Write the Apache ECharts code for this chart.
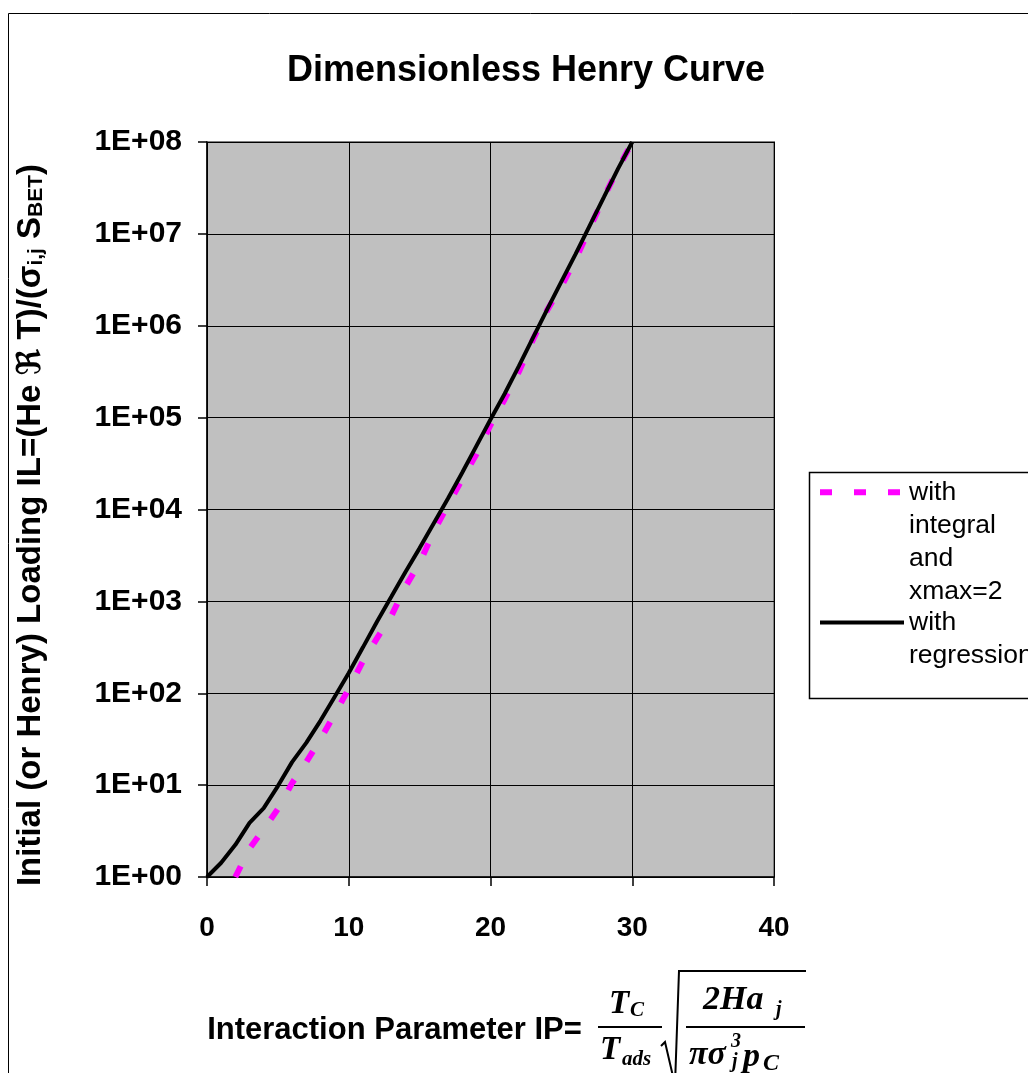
<!DOCTYPE html>
<html>
<head>
<meta charset="utf-8">
<title>Dimensionless Henry Curve</title>
<script src="https://cdn.jsdelivr.net/npm/echarts@6/dist/echarts.min.js"></script>
<style>
  html, body { margin: 0; padding: 0; overflow: hidden; background: #fff; }
  #chart { position: absolute; left: 0; top: 0; width: 1052px; height: 1073px; }
</style>
</head>
<body>
<div id="chart"></div>
<script>
// Interaction parameter IP (x) and dimensionless initial loading IL (y)
const ipRegression = [0, 1, 2, 3, 4, 5, 6, 7, 8, 9, 10, 11, 12, 13, 14, 15, 16, 17, 18, 19, 20,
  21, 22, 23, 24, 25, 26, 27, 28, 29, 30];
const ilRegression = [1, 1.43, 2.24, 3.89, 5.62, 9.77, 17.8, 28.8, 50.1, 91.2, 166, 316, 603,
  1120, 2090, 3800, 7080, 13200, 25100, 49000, 95500, 182000, 363000, 741000, 1510000,
  3020000, 6030000, 12300000, 25100000, 51300000, 100000000];

const ipIntegral = [2, 3, 4, 5, 6, 7, 8, 9, 10, 11, 12, 13, 14, 15, 16, 17, 18, 19, 20,
  21, 22, 23, 24, 25, 26, 27, 28, 29, 30];
const ilIntegral = [1, 2.04, 3.31, 5.5, 10.5, 17.8, 31.6, 58.9, 112, 224, 398, 692, 1445,
  2630, 5754, 11220, 21380, 39810, 83180, 158500, 316200, 707900, 1479000, 2692000,
  5248000, 11480000, 25120000, 51290000, 100000000];

const seriesNames = ['with integral and xmax=2', 'with regression'];
const yTickLabels = ['1E+00', '1E+01', '1E+02', '1E+03', '1E+04', '1E+05', '1E+06', '1E+07', '1E+08'];
const xTicks = [0, 10, 20, 30, 40];

const SANS = '"Liberation Sans", Arial, "DejaVu Sans", sans-serif';
const SERIF = '"Liberation Serif", "Times New Roman", "DejaVu Serif", serif';

const pairs = (xs, ys) => xs.map((x, i) => [x, ys[i]]);

// Formula pieces of the x-axis title: T_C / T_ads * sqrt(2Ha_j / (pi sigma_j^3 p_C))
const mathText = (text, x, y, size) => ({
  type: 'text', silent: true, x: x, y: y,
  style: { text: text, fill: '#000', font: 'italic bold ' + size + 'px ' + SERIF,
    align: 'left', verticalAlign: 'middle' }
});
const strokeLine = (pts, w) => ({
  type: 'polyline', silent: true, shape: { points: pts },
  style: { stroke: '#000', lineWidth: w, fill: null }
});

// Legend entries wrap one word per line, the key line sits beside the first line
const LEGEND_LINE = 33.3;
const legendLabel = name => name.split(' ').map(w => '{t|' + w + '}').join('\n');
const legendEntry = name => ({
  name: name,
  textStyle: { padding: [(name.split(' ').length - 1) * LEGEND_LINE, 0, 0, 0] }
});

const chart = echarts.init(document.getElementById('chart'), null, { renderer: 'canvas' });

chart.setOption({
  animation: false,
  backgroundColor: '#fff',
  title: {
    text: 'Dimensionless Henry Curve',
    left: 'center', top: 53, padding: 0,
    textStyle: { fontFamily: SANS, fontSize: 36, fontWeight: 'bold', color: '#000' }
  },
  grid: {
    left: 207, top: 142, width: 567, height: 735,
    show: true, backgroundColor: '#C0C0C0', borderColor: '#808080', borderWidth: 2
  },
  xAxis: {
    type: 'value', min: xTicks[0], max: xTicks[xTicks.length - 1], interval: 10,
    name: 'Interaction Parameter IP=',
    nameLocation: 'middle', nameGap: 138,
    nameTextStyle: { fontFamily: SANS, fontSize: 31, fontWeight: 'bold', color: '#000',
      padding: [0, 192, 0, 0] },
    axisLine: { show: true, onZero: false, lineStyle: { color: '#000', width: 1.5 } },
    axisTick: { show: true, length: 9, lineStyle: { color: '#000', width: 1.5 } },
    axisLabel: { margin: 37, fontFamily: SANS, fontSize: 28, fontWeight: 'bold', color: '#000' },
    splitLine: { show: true, lineStyle: { color: '#000', width: 1 } }
  },
  yAxis: {
    type: 'log', logBase: 10, min: 1, max: 1e8,
    name: '{m|Initial (or Henry) Loading IL=(He ℜ T)/(σ}{s|i,j}{m| S}{s|BET}{m|)}',
    nameLocation: 'middle', nameRotate: 90, nameGap: 160,
    nameTextStyle: {
      padding: [0, 31, 0, 0],
      rich: {
        m: { fontFamily: SANS, fontSize: 33, fontWeight: 'bold', color: '#000' },
        s: { fontFamily: SANS, fontSize: 21, fontWeight: 'bold', color: '#000', verticalAlign: 'bottom' }
      }
    },
    axisLine: { show: true, onZero: false, lineStyle: { color: '#000', width: 1.5 } },
    axisTick: { show: true, length: 9, lineStyle: { color: '#000', width: 1.5 } },
    minorTick: { show: false },
    axisLabel: {
      margin: 25, fontFamily: SANS, fontSize: 30, fontWeight: 'bold', color: '#000',
      formatter: v => yTickLabels[Math.round(Math.log10(v))]
    },
    splitLine: { show: true, lineStyle: { color: '#000', width: 1 } }
  },
  legend: {
    orient: 'vertical',
    left: 817, top: 478.7, padding: 0,
    itemWidth: 84, itemHeight: 6, itemGap: 3.4,
    formatter: legendLabel,
    itemStyle: { color: 'rgba(0,0,0,0)', borderColor: 'rgba(0,0,0,0)', borderWidth: 0 },
    lineStyle: { width: 'inherit' },
    textStyle: {
      fontFamily: SANS, fontSize: 26.5, color: '#000',
      rich: { t: { fontFamily: SANS, fontSize: 26.5, lineHeight: LEGEND_LINE, color: '#000' } }
    },
    data: seriesNames.map(legendEntry)
  },
  series: [
    {
      name: seriesNames[0], type: 'line', data: pairs(ipIntegral, ilIntegral),
      symbol: 'none', smooth: false, clip: true,
      lineStyle: { color: '#FF00FF', width: 6, type: [12, 22], cap: 'butt' },
      itemStyle: { color: '#FF00FF' }
    },
    {
      name: seriesNames[1], type: 'line', data: pairs(ipRegression, ilRegression),
      symbol: 'none', smooth: false, clip: true,
      lineStyle: { color: '#000', width: 4 },
      itemStyle: { color: '#000' }
    }
  ],
  graphic: [
    // chart frame (continues past the right and bottom edges of the page)
    { type: 'rect', silent: true, z: -10,
      shape: { x: 8.5, y: 13.5, width: 1100, height: 1100 },
      style: { fill: null, stroke: '#000', lineWidth: 1 } },
    // legend frame
    { type: 'rect', silent: true,
      shape: { x: 809.5, y: 472.5, width: 260, height: 226 },
      style: { fill: null, stroke: '#000', lineWidth: 1.5 } },
    // first factor: T_C over T_ads
    mathText('T', 609, 1004, 33),
    mathText('C', 630, 1011, 21),
    strokeLine([[598, 1027], [662, 1027]], 2),
    mathText('T', 600, 1050, 33),
    mathText('ads', 622, 1060, 21),
    // radical sign
    strokeLine([[661, 1046], [665, 1042], [675, 1085], [679, 971], [806, 971]], 2),
    // 2 H a_j over pi sigma_j^3 p_C
    mathText('2Ha', 703, 1000, 34),
    mathText('j', 776, 1010, 20),
    strokeLine([[686, 1027], [805, 1027]], 2),
    mathText('πσ', 689, 1055, 34),
    mathText('3', 731, 1042, 20),
    mathText('j', 732, 1062, 20),
    mathText('p', 743, 1057, 34),
    mathText('C', 763, 1064, 24)
  ]
});
</script>
</body>
</html>
